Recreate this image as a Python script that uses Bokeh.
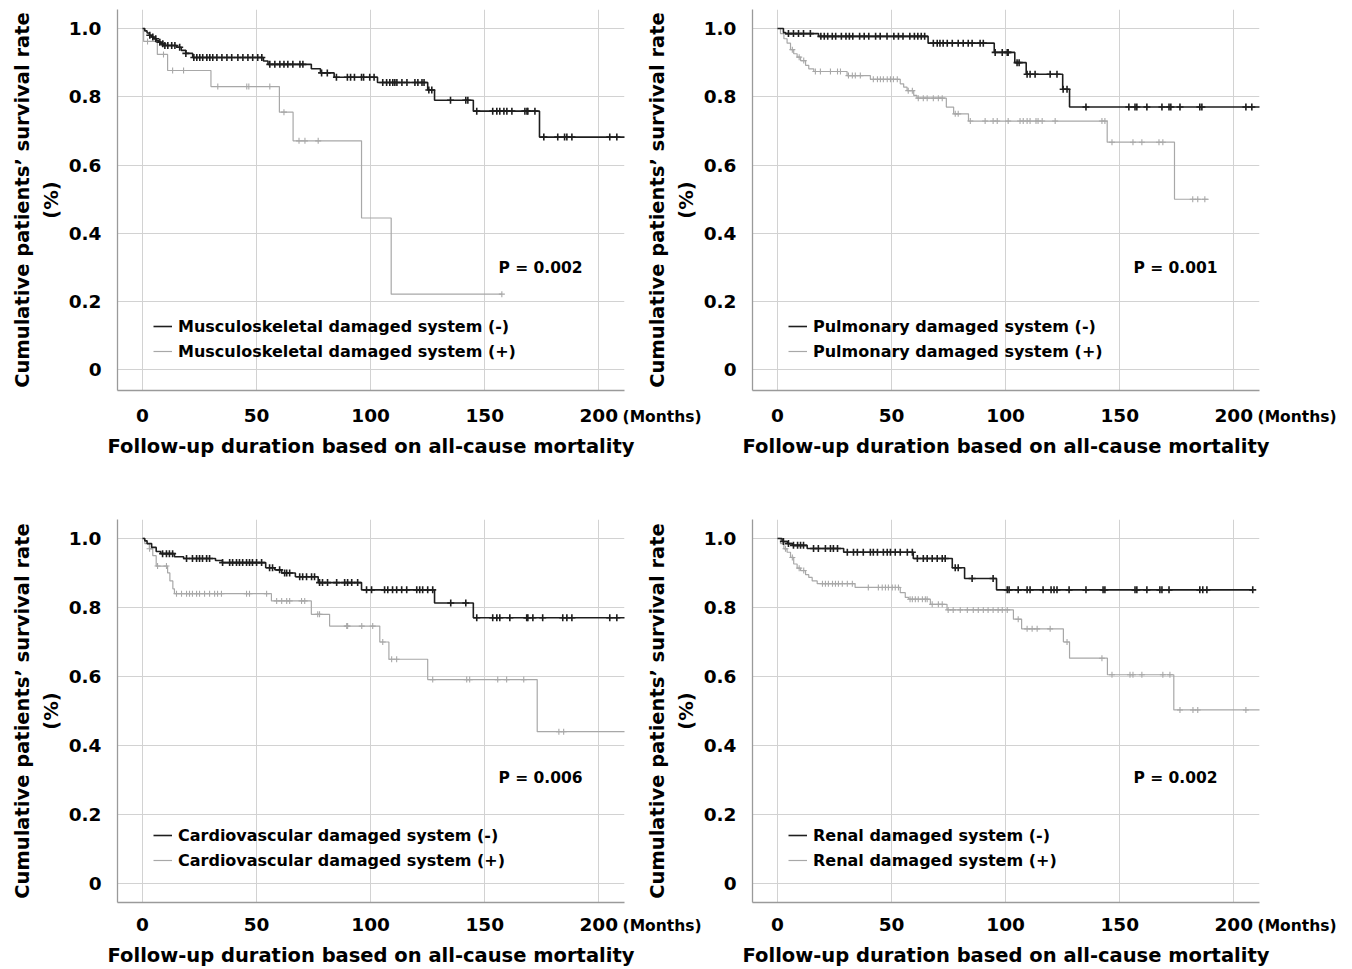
from bokeh.plotting import figure
from bokeh.models import (Range1d, FixedTicker, Label, Legend, LegendItem, LinearAxis,
                          NumeralTickFormatter)
from bokeh.layouts import row, column
from bokeh.embed import file_html
from bokeh.resources import INLINE
from bokeh.core.properties import value

FONT = "DejaVu Sans"

X_TICKS = [0, 50, 100, 150, 200]
Y_TICKS = [0, 0.2, 0.4, 0.6, 0.8, 1.0]
Y_TICK_LABELS = ["0", "0.2", "0.4", "0.6", "0.8", "1.0"]
X_TITLE = "Follow-up duration based on all-cause mortality"
Y_TITLE = "Cumulative patients\u2019 survival rate"
Y_TITLE2 = "(%)"
UNIT = "(Months)"
UNIT_AT = 210

# ---------------- Panel A: Musculoskeletal ----------------
A_NAMES = ["Musculoskeletal damaged system (-)", "Musculoskeletal damaged system (+)"]
A_P = "P = 0.002"
A_NEG_T = [1, 2, 3, 4, 5, 6, 7, 8, 9, 15, 17, 19, 22, 53, 55, 74, 78, 84, 103, 125, 128, 145, 174]
A_NEG_S = [0.993, 0.987, 0.980, 0.975, 0.970, 0.965, 0.960, 0.955, 0.950, 0.945, 0.936, 0.927, 0.915,
           0.905, 0.895, 0.882, 0.870, 0.857, 0.842, 0.820, 0.790, 0.758, 0.682]
A_NEG_C = [3.2, 4.5, 5.8, 7.6, 8.9, 9.8, 11.1, 12.8, 14.2, 16.3, 19, 22.5, 23.8, 25.1, 26.4, 28.2, 29.5,
           30.8, 32.6, 34.8, 37, 39.1, 41.8, 44, 46.2, 48.3, 50.5, 52.3, 55.8, 58, 60.2, 62, 63.7, 65.9,
           69, 70.3, 78.5, 81, 85, 89.8, 91.2, 92.9, 96, 96.9, 99.6, 101.5, 105.3, 107, 108.4, 109.7,
           110.6, 111.5, 113.7, 115.9, 119.4, 120.7, 122.5, 123.4, 125.5, 126.8, 135, 141.7, 142.6,
           146.5, 153.5, 155.3, 156.6, 158.4, 159.7, 161.9, 167.6, 168.5, 168.9, 172, 175.9, 182, 185,
           186, 188.2, 204.8, 207.9]
A_NEG_END = 215
A_POS_T = [0.5, 6.5, 11, 30, 60, 66, 96, 109]
A_POS_S = [0.962, 0.924, 0.877, 0.830, 0.755, 0.671, 0.445, 0.222]
A_POS_C = [2.2, 9.2, 13.2, 18, 33, 45.7, 46.6, 55.8, 62, 68.6, 71.2, 77, 157.5]
A_POS_END = 157.5

# ---------------- Panel B: Pulmonary ----------------
B_NAMES = ["Pulmonary damaged system (-)", "Pulmonary damaged system (+)"]
B_P = "P = 0.001"
B_NEG_T = [2.6, 3.5, 18, 66, 95, 104, 109, 125, 128]
B_NEG_S = [0.988, 0.985, 0.977, 0.957, 0.930, 0.900, 0.866, 0.822, 0.770]
B_NEG_C = [4.8, 7, 9.2, 11.4, 14.4, 19, 20.5, 22, 24, 25.5, 28, 30, 31.5, 33, 36, 38, 40, 43, 45, 48,
           51, 53, 55, 58, 60, 61.5, 63, 64.5, 68.3, 70, 71.2, 72.6, 74.4, 76.6, 79.2, 81.4, 83.6, 85.3,
           88.8, 90.2, 95.4, 98.5, 100.7, 101.1, 105, 105.9, 109.4, 110.7, 112.9, 119.5, 122.5, 125.2,
           126.9, 135.2, 154, 156.7, 157.5, 161.9, 168.5, 171.6, 172.4, 176.4, 185.1, 186, 205.3, 207.9]
B_NEG_END = 215
B_POS_T = [1.3, 2.8, 4.2, 5.7, 7.1, 8.6, 10.1, 12.3, 13.7, 15.9, 30.5, 40.7, 53.8, 55.3, 56.8, 59.7,
           61.1, 74, 77.2, 83.7, 144.5, 174]
B_POS_S = [0.985, 0.970, 0.957, 0.938, 0.926, 0.916, 0.906, 0.892, 0.882, 0.874, 0.862, 0.851, 0.838,
           0.828, 0.818, 0.804, 0.796, 0.770, 0.750, 0.729, 0.667, 0.500]
B_POS_C = [6.5, 9.5, 11.5, 16.6, 18.8, 23.2, 26.3, 27.6, 31.1, 32.8, 34.1, 36.3, 42, 43.8, 45.1, 46.4,
           48.1, 49.5, 50.8, 52.5, 57.3, 59.1, 61.7, 63.9, 65.6, 68.3, 70.5, 72.2, 77.9, 79.2, 84.5, 91,
           94.5, 96.3, 101.1, 106.3, 107.7, 109.4, 110.7, 113.3, 114.2, 116, 121.7, 142.2, 143.5, 146.6,
           155.8, 159.7, 167.2, 168.9, 182, 184.2, 187.3]
B_POS_END = 189

# ---------------- Panel C: Cardiovascular ----------------
C_NAMES = ["Cardiovascular damaged system (-)", "Cardiovascular damaged system (+)"]
C_P = "P = 0.006"
C_NEG_T = [1, 2, 4, 6, 8, 14, 18, 32, 35, 54, 58, 61, 67, 77, 96, 128, 145]
C_NEG_S = [0.993, 0.985, 0.974, 0.962, 0.956, 0.947, 0.942, 0.936, 0.930, 0.915, 0.909, 0.900, 0.889,
           0.872, 0.851, 0.813, 0.770]
C_NEG_C = [8.8, 10.5, 11.8, 13.2, 19.3, 21.9, 23.7, 25, 26.3, 28.1, 29.4, 35.1, 38.2, 39.5, 41.2, 42.5,
           43.9, 45.6, 46.9, 48.2, 50, 52.2, 55.7, 57, 60.1, 62.3, 63.2, 64.5, 68.9, 70.2, 71.9, 74.1,
           75.4, 77.6, 78.9, 81.1, 85.1, 88.6, 89.9, 91.7, 94.3, 98.2, 100.4, 106.1, 107.5, 109.6, 111.4,
           113.6, 115.8, 120.2, 121.5, 122.8, 125, 127.2, 135.1, 141.7, 146.5, 153.5, 155.3, 156.6, 161,
           168.4, 168.9, 171.1, 175.4, 184.2, 186, 188.2, 204.8, 207.9]
C_NEG_END = 215
C_POS_T = [1, 3, 4.5, 6, 11, 12, 13.3, 14, 56.5, 74, 82, 104, 108, 125, 173]
C_POS_S = [0.985, 0.970, 0.950, 0.920, 0.900, 0.877, 0.854, 0.840, 0.819, 0.780, 0.746, 0.700, 0.650,
           0.591, 0.440]
C_POS_C = [3.1, 6.6, 10.5, 14.9, 17.1, 19.3, 20.6, 21.9, 23.7, 25, 27.2, 29.4, 31.6, 32.9, 34.6, 45.6,
           46.9, 54.4, 58.8, 61, 63.2, 64.5, 69.7, 71.1, 76.8, 77.6, 89.5, 89.9, 96.1, 100.9, 105.3,
           109.2, 111.4, 127.2, 142.1, 143.4, 155.7, 159.6, 167.1, 182.5, 184.6]
C_POS_END = 215

# ---------------- Panel D: Renal ----------------
D_NAMES = ["Renal damaged system (-)", "Renal damaged system (+)"]
D_P = "P = 0.002"
D_NEG_T = [2, 4.4, 6.6, 13, 29, 59.5, 76.6, 82, 96]
D_NEG_S = [0.991, 0.985, 0.980, 0.971, 0.960, 0.942, 0.915, 0.884, 0.851]
D_NEG_C = [2.6, 4.8, 7, 8.8, 10.1, 11.4, 15.8, 17.9, 21, 23.2, 24.5, 26.3, 30.6, 33.3, 35, 37.6, 40.7,
           42, 43.8, 46.4, 48.1, 49.5, 51.6, 53.8, 56.9, 59.1, 61.3, 63.9, 65.6, 67.8, 70, 72.2, 73.5,
           77.9, 79.2, 85.3, 94.5, 100.7, 101.5, 105.5, 109.4, 110.7, 116.4, 119.9, 121.2, 122.5, 127.8,
           135.2, 142.7, 143.5, 156.7, 157.5, 161.9, 167.6, 168.5, 171.6, 185.1, 186.4, 188.2, 208.3]
D_NEG_END = 208.3
D_POS_T = [1.3, 2.8, 4.2, 5.7, 7.1, 8.6, 10.1, 12.3, 13.7, 15.2, 17.4, 34, 53.8, 56, 57.5, 67, 74.3,
           103.4, 107, 125.3, 128, 144.6, 173.7]
D_POS_S = [0.985, 0.970, 0.960, 0.945, 0.926, 0.914, 0.907, 0.895, 0.887, 0.877, 0.869, 0.858, 0.843,
           0.829, 0.824, 0.809, 0.793, 0.766, 0.738, 0.700, 0.653, 0.605, 0.503]
D_POS_C = [3.5, 6.5, 9.5, 11.5, 19.7, 21, 22.3, 24.1, 25.4, 26.7, 28.4, 30.6, 32.8, 39.8, 44.2, 45.9,
           47.3, 48.6, 50.3, 51.6, 53, 58.1, 59.1, 60.4, 61.7, 63.5, 64.8, 65.6, 67.8, 70.5, 72.2, 74.8,
           77, 80.1, 83.2, 85.8, 88, 90.2, 92.3, 94.5, 96.7, 98.5, 100.7, 105.5, 109.4, 111.6, 113.8,
           119.5, 126.9, 142.2, 146.6, 154.5, 155.8, 159.7, 168.9, 172, 176.4, 182.1, 184.2, 205.3]
D_POS_END = 215

BLACK = "#1e1e1e"
GRAY = "#a8a8a8"
GRID = "#d2d2d2"
AXIS = "#9a9a9a"


def km_path(ev_t, ev_s, end):
    xs, ys, cur = [0.0], [1.0], 1.0
    for t, s in zip(ev_t, ev_s):
        xs += [t, t]
        ys += [cur, s]
        cur = s
    xs.append(end)
    ys.append(cur)
    return xs, ys


def s_at(ev_t, ev_s, c):
    cur = 1.0
    for t, s in zip(ev_t, ev_s):
        if t <= c:
            cur = s
    return cur


def bare(ax):
    ax.axis_line_color = None
    ax.major_tick_line_color = None
    ax.minor_tick_line_color = None
    ax.major_tick_out = 0
    ax.major_tick_in = 0
    ax.minor_tick_out = 0


def title_style(ax, text, standoff):
    ax.axis_label = text
    ax.axis_label_text_font = FONT
    ax.axis_label_text_font_size = "19.5px"
    ax.axis_label_text_font_style = "bold"
    ax.axis_label_text_color = "black"
    ax.axis_label_standoff = standoff


# the unit label sits centred on its tick; leading no-break spaces move the
# visible word to the right of the "200" tick label
UNIT_TEXT = "\u00a0" * 15 + UNIT


def panel(width, height, bl, br, bt, bb, yr, tick_gap, title_gap, leg_y, p_y,
          names, pval, neg, pos, margin=None):
    p = figure(width=width, height=height,
               x_range=Range1d(-10.96, 211.26), y_range=Range1d(*yr),
               output_backend="svg", toolbar_location=None,
               min_border_left=bl, min_border_right=br, min_border_top=bt, min_border_bottom=bb,
               outline_line_color=None, border_fill_alpha=0, background_fill_color="white")
    if margin is not None:
        p.margin = margin
    xa = p.xaxis[0]
    ya = p.yaxis[0]
    xa.ticker = FixedTicker(ticks=X_TICKS)
    ya.ticker = FixedTicker(ticks=Y_TICKS)
    ya.formatter = NumeralTickFormatter(format="0.0")
    ya.major_label_overrides = {0: Y_TICK_LABELS[0]}
    for ax in (xa, ya):
        bare(ax)
        ax.axis_line_color = AXIS
        ax.axis_line_width = 1.3
        ax.major_label_text_font = FONT
        ax.major_label_text_font_size = "18.5px"
        ax.major_label_text_font_style = "bold"
        ax.major_label_text_color = "black"
    xa.major_label_standoff = tick_gap
    ya.major_label_standoff = 16
    title_style(ya, Y_TITLE2, 3)
    p.xgrid.grid_line_color = GRID
    p.ygrid.grid_line_color = GRID

    # outer left axis carrying the main y title
    ya2 = LinearAxis(ticker=FixedTicker(ticks=[]), major_label_standoff=0)
    bare(ya2)
    title_style(ya2, Y_TITLE, 3)
    p.add_layout(ya2, "left")

    # second bottom axis: "(Months)" beside the last tick, plus the x title
    xa2 = LinearAxis(ticker=FixedTicker(ticks=[UNIT_AT]), major_label_overrides={UNIT_AT: UNIT_TEXT},
                     major_label_standoff=-17,
                     major_label_text_font=FONT, major_label_text_font_size="15.5px",
                     major_label_text_font_style="bold", major_label_text_color="black")
    bare(xa2)
    title_style(xa2, X_TITLE, title_gap)
    p.add_layout(xa2, "below")

    nt, ns, nc, ne = neg
    pt, ps, pc, pe = pos
    xs, ys = km_path(pt, ps, pe)
    r_pos = p.line(xs, ys, line_color=GRAY, line_width=1.2)
    p.scatter(pc, [s_at(pt, ps, c) for c in pc], marker="cross", size=6,
              line_color=GRAY, line_width=1.1)
    xs, ys = km_path(nt, ns, ne)
    r_neg = p.line(xs, ys, line_color=BLACK, line_width=1.6)
    p.scatter(nc, [s_at(nt, ns, c) for c in nc], marker="cross", size=7,
              line_color=BLACK, line_width=1.6)

    leg = Legend(items=[LegendItem(label=value(names[0]), renderers=[r_neg]),
                        LegendItem(label=value(names[1]), renderers=[r_pos])],
                 location=(36, leg_y), orientation="vertical", padding=0, margin=0, spacing=5,
                 glyph_width=19, glyph_height=20, label_height=20, label_standoff=6,
                 label_text_font=FONT, label_text_font_size="16px", label_text_font_style="bold",
                 label_text_color="black", background_fill_alpha=0, border_line_color=None)
    p.add_layout(leg)

    p.add_layout(Label(x=156, y=p_y, text=pval, text_font=FONT, text_font_size="15.5px",
                       text_font_style="bold", text_color="black", text_baseline="middle",
                       text_align="left"))
    return p


TOP_YR = (-0.0601, 1.0556)
BOT_YR = (-0.0549, 1.0549)

pA = panel(705, 497, 117, 81, 9, 107, TOP_YR, 18, 6, 29, 0.300, A_NAMES, A_P,
           (A_NEG_T, A_NEG_S, A_NEG_C, A_NEG_END), (A_POS_T, A_POS_S, A_POS_C, A_POS_END))
pB = panel(704, 497, 112, 85, 9, 107, TOP_YR, 18, 6, 29, 0.300, B_NAMES, B_P,
           (B_NEG_T, B_NEG_S, B_NEG_C, B_NEG_END), (B_POS_T, B_POS_S, B_POS_C, B_POS_END),
           margin=(0, 0, 0, -65))
pC = panel(705, 472, 117, 81, 22, 66, BOT_YR, 15, 6, 32, 0.305, C_NAMES, C_P,
           (C_NEG_T, C_NEG_S, C_NEG_C, C_NEG_END), (C_POS_T, C_POS_S, C_POS_C, C_POS_END))
pD = panel(704, 472, 112, 85, 22, 66, BOT_YR, 15, 6, 32, 0.305, D_NAMES, D_P,
           (D_NEG_T, D_NEG_S, D_NEG_C, D_NEG_END), (D_POS_T, D_POS_S, D_POS_C, D_POS_END),
           margin=(0, 0, 0, -65))

layout = column(row(pA, pB), row(pC, pD))
open("out.html", "w").write(file_html(layout, INLINE))
